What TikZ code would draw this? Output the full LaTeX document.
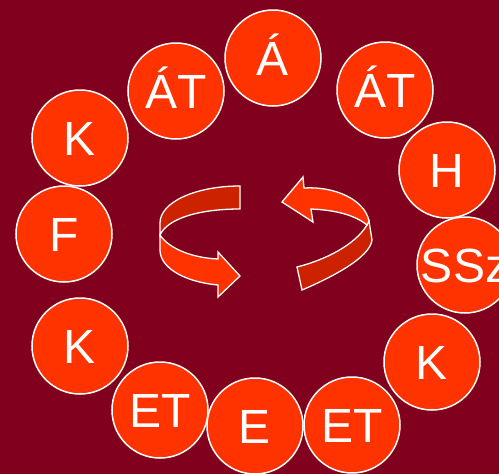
\documentclass[tikz,border=0pt]{standalone}
\usepackage{fontspec}
\setmainfont{Liberation Sans}
\usepackage{tikz}

\definecolor{hintergrund}{RGB}{128,0,30}
\definecolor{hellrot}{RGB}{255,51,0}
\definecolor{dunkelrot}{RGB}{204,34,0}

\tikzset{
	kreis/.style={circle,draw=white,line width=1.5pt,fill=hellrot,text=white,
		minimum size=96pt,inner sep=0pt,text height=35pt,text depth=0pt,
		font=\fontsize{48}{48}\selectfont},
	band/.style={draw=white,line width=1.3pt,line join=miter}
}

\begin{document}
\begin{tikzpicture}[x=1pt,y=-1pt]
		% Hintergrund 499 x 474
		\fill[hintergrund] (0,0) rectangle (499,474);
		\useasboundingbox (0,0) rectangle (499,474);
		
		% Kreise im Uhrzeigersinn, oben beginnend
		\foreach \px/\py/\txt/\nm in {273/58/Á/a, 385/90/ÁT/at1, 447/170/H/h,
			465/265/SSz/ssz, 432/362/K/k1, 352/425/ET/et1, 255/426/E/e,
			160/410/ET/et2, 80/346/K/k2, 64/234/F/f, 80/138/K/k3, 176/91/ÁT/at2}
		\node[kreis] (\nm) at (\px,\py) {\txt};
		
		% linker Drehpfeil: hinteres Band (dunkel)
		\filldraw[band,fill=dunkelrot] (240,186) .. controls (196,186) and (160,202) .. (160,223)
		-- (160,235) .. controls (168,218) and (200,209) .. (240,209) -- cycle;
		% linker Drehpfeil: vorderes Band mit Spitze
		\filldraw[band,fill=hellrot] (160,235) .. controls (170,250) and (195,258) .. (218,259)
		-- (218,252) -- (240,276) -- (218,297) -- (218,285)
		.. controls (185,282) and (160,268) .. (160,250) -- cycle;
		
		% rechter Drehpfeil: hinteres Band (dunkel)
		\filldraw[band,fill=dunkelrot] (367,225) .. controls (355,245) and (325,260) .. (297,267)
		-- (302,290) .. controls (330,278) and (370,258) .. (372,240) -- (369,221) -- cycle;
		% rechter Drehpfeil: vorderes Band mit Spitze
		\filldraw[band,fill=hellrot] (304,188) .. controls (335,186) and (365,200) .. (369,221)
		-- (367,225) .. controls (355,215) and (335,210) .. (311,209)
		-- (313,222) -- (282,202) -- (303,177) -- cycle;
		
	\end{tikzpicture}
\end{document}
